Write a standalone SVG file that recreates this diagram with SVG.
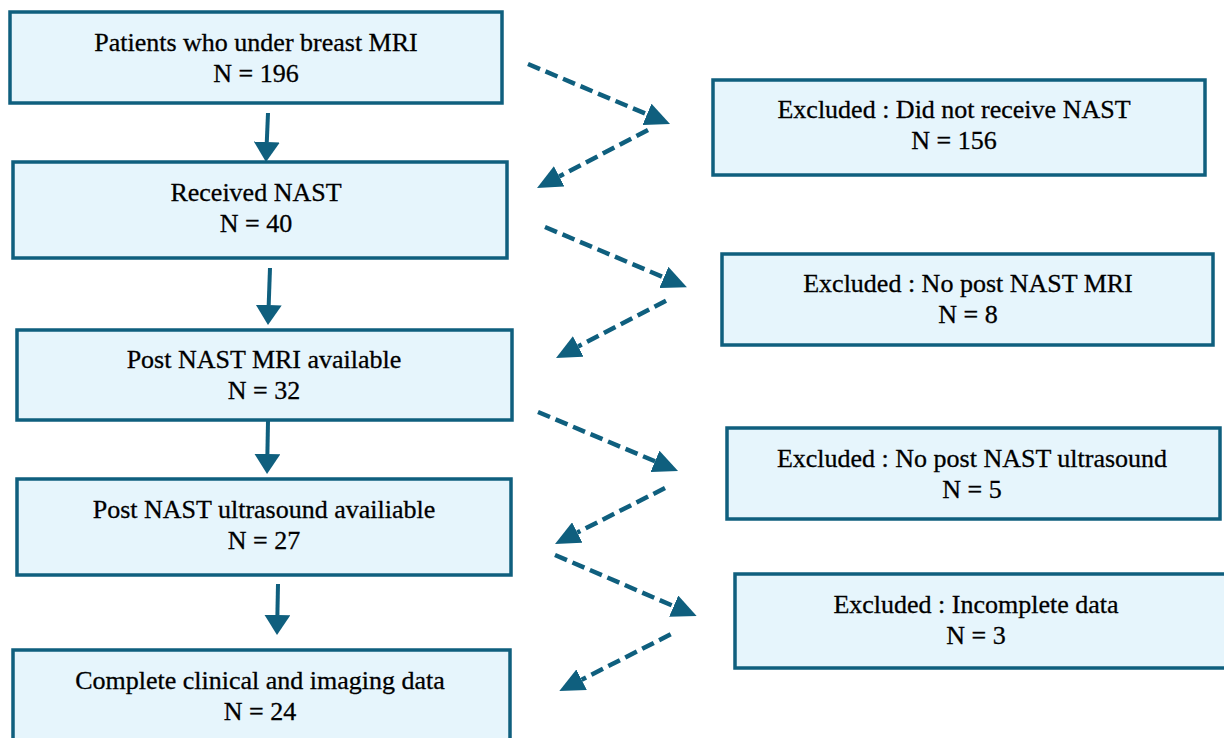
<svg xmlns="http://www.w3.org/2000/svg" width="1224" height="738" viewBox="0 0 1224 738">
<defs>
<style>
.box{fill:#e6f5fc;stroke:#0f5f7e;stroke-width:3.5}
.t{font-family:"Liberation Serif","Times New Roman",serif;font-size:26px;fill:#000;stroke:#000;stroke-width:0.3;text-anchor:middle}
.solid{stroke:#0f5f7e;stroke-width:4;fill:none}
.dash{stroke:#0f5f7e;stroke-width:4.5;fill:none;stroke-dasharray:13 6}
</style>
<marker id="ah" viewBox="0 -13 20 26" refX="0" refY="0" markerUnits="userSpaceOnUse" markerWidth="20" markerHeight="26" orient="auto">
<path d="M0,-13 L20,0 L0,13 Z" fill="#0f5f7e"/>
</marker>
<marker id="ahd" viewBox="0 -11.5 25 23" refX="0" refY="0" markerUnits="userSpaceOnUse" markerWidth="25" markerHeight="23" orient="auto">
<path d="M0,-11.5 L25,0 L0,11.5 Z" fill="#0f5f7e"/>
</marker>
</defs>
<rect width="1224" height="738" fill="#fff"/>
<g id="n1"><rect class="box" x="10" y="12" width="492" height="91"/><text class="t" x="256" y="51">Patients who under breast MRI</text><text class="t" x="256" y="82">N = 196</text></g>
<g id="n2"><rect class="box" x="13" y="162" width="494" height="96"/><text class="t" x="256" y="201">Received NAST</text><text class="t" x="256" y="232">N = 40</text></g>
<g id="n3"><rect class="box" x="17" y="330" width="495" height="90"/><text class="t" x="264" y="368">Post NAST MRI available</text><text class="t" x="264" y="399">N = 32</text></g>
<g id="n4"><rect class="box" x="17" y="479" width="494" height="96"/><text class="t" x="264" y="518">Post NAST ultrasound availiable</text><text class="t" x="264" y="549">N = 27</text></g>
<g id="n5"><rect class="box" x="13" y="650" width="497" height="100"/><text class="t" x="260" y="689">Complete clinical and imaging data</text><text class="t" x="260" y="720">N = 24</text></g>
<g id="r1"><rect class="box" x="713" y="80" width="492" height="95"/><text class="t" x="954" y="118">Excluded : Did not receive NAST</text><text class="t" x="954" y="149">N = 156</text></g>
<g id="r2"><rect class="box" x="722" y="254" width="491" height="91"/><text class="t" x="968" y="292">Excluded : No post NAST MRI</text><text class="t" x="968" y="323">N = 8</text></g>
<g id="r3"><rect class="box" x="727" y="428" width="493" height="91"/><text class="t" x="972" y="467">Excluded : No post NAST ultrasound</text><text class="t" x="972" y="498">N = 5</text></g>
<g id="r4"><rect class="box" x="735" y="574" width="492" height="94"/><text class="t" x="976" y="613">Excluded : Incomplete data</text><text class="t" x="976" y="644">N = 3</text></g>
<g id="connectors">
<line class="solid" x1="268" y1="113" x2="266.8" y2="142" marker-end="url(#ah)"/>
<line class="solid" x1="270" y1="268" x2="268.7" y2="305" marker-end="url(#ah)"/>
<line class="solid" x1="268" y1="421" x2="267.4" y2="454" marker-end="url(#ah)"/>
<line class="solid" x1="278" y1="584" x2="277.4" y2="615" marker-end="url(#ah)"/>
<line class="dash" x1="528" y1="64" x2="647" y2="114.3" marker-end="url(#ahd)"/>
<line class="dash" x1="648" y1="130" x2="559.2" y2="176.4" marker-end="url(#ahd)"/>
<line class="dash" x1="545" y1="227" x2="663.9" y2="277.4" marker-end="url(#ahd)"/>
<line class="dash" x1="666" y1="300.7" x2="578.2" y2="346.4" marker-end="url(#ahd)"/>
<line class="dash" x1="538" y1="412" x2="655" y2="461.3" marker-end="url(#ahd)"/>
<line class="dash" x1="665" y1="488" x2="577.3" y2="532.6" marker-end="url(#ahd)"/>
<line class="dash" x1="555" y1="555" x2="673.7" y2="606.1" marker-end="url(#ahd)"/>
<line class="dash" x1="670.7" y1="634.3" x2="581.6" y2="679.7" marker-end="url(#ahd)"/>
</g>
</svg>
